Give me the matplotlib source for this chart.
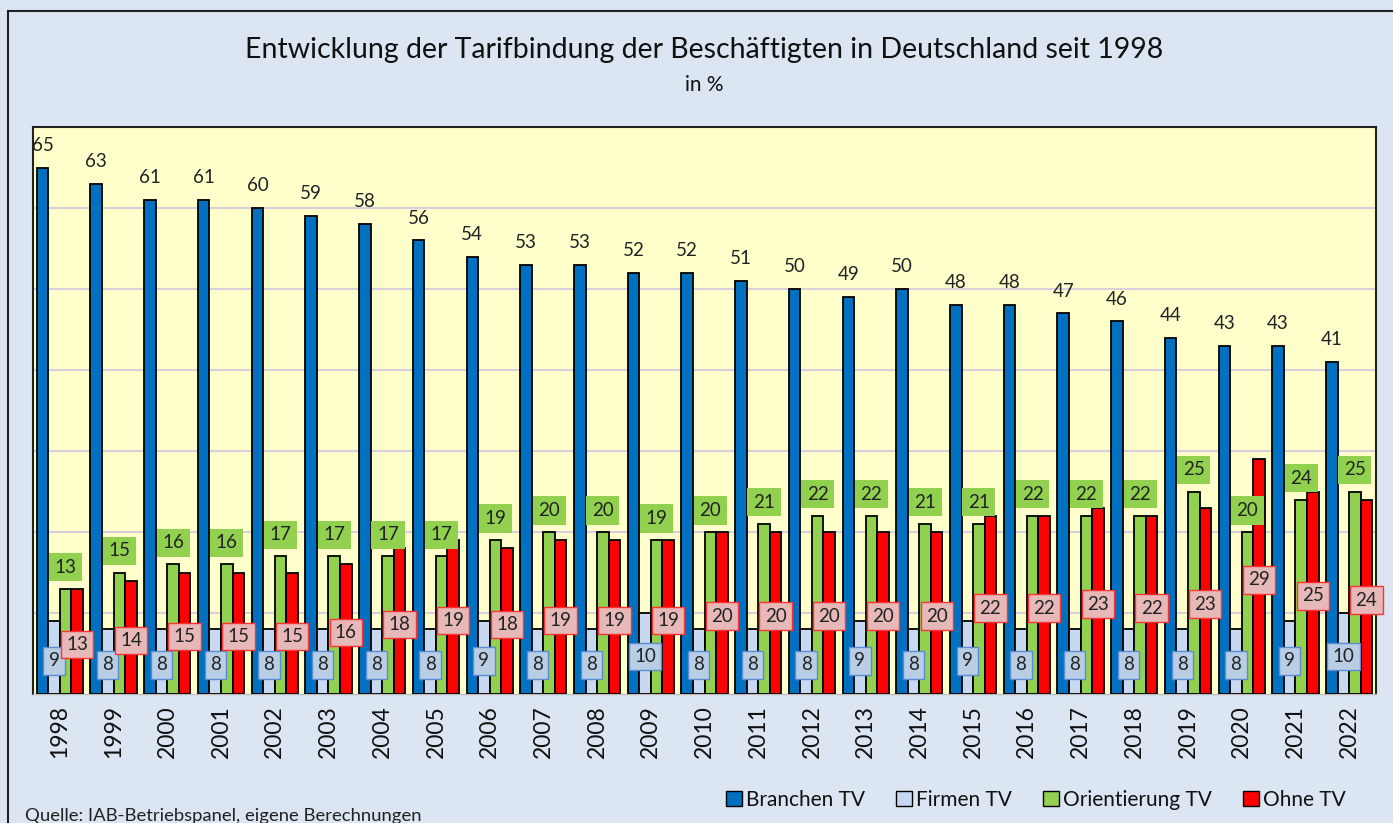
import matplotlib
matplotlib.use('Agg')
import matplotlib.pyplot as plt
from matplotlib.patches import Patch, Rectangle
import numpy as np

years = [str(y) for y in range(1998, 2023)]
branchen = [65, 63, 61, 61, 60, 59, 58, 56, 54, 53, 53, 52, 52, 51, 50, 49, 50, 48, 48, 47, 46, 44, 43, 43, 41]
firmen = [9, 8, 8, 8, 8, 8, 8, 8, 9, 8, 8, 10, 8, 8, 8, 9, 8, 9, 8, 8, 8, 8, 8, 9, 10]
orientierung = [13, 15, 16, 16, 17, 17, 17, 17, 19, 20, 20, 19, 20, 21, 22, 22, 21, 21, 22, 22, 22, 25, 20, 24, 25]
ohne = [13, 14, 15, 15, 15, 16, 18, 19, 18, 19, 19, 19, 20, 20, 20, 20, 20, 22, 22, 23, 22, 23, 29, 25, 24]
series_names = ['Branchen TV', 'Firmen TV', 'Orientierung TV', 'Ohne TV']

title = 'Entwicklung der Tarifbindung der Beschäftigten in Deutschland seit 1998'
subtitle = 'in %'
source = 'Quelle: IAB-Betriebspanel, eigene Berechnungen'

plt.rcParams['font.family'] = ['Lato', 'DejaVu Sans']

C_BLUE = '#0070c0'
C_FIRM = '#c6d9f1'
C_GREEN = '#92d050'
C_RED = '#ff0000'
BG = '#dce6f2'
PLOT_BG = '#ffffcc'

fig = plt.figure(figsize=(13.93, 8.23), dpi=100, facecolor=BG)
ax = fig.add_axes([33/1393, 1-694/823, (1376-33)/1393, (694-127)/823])
ax.set_facecolor(PLOT_BG)

x = np.arange(len(years))
w = 0.215
edge = dict(edgecolor='black', linewidth=1.3)
ax.bar(x - 1.5*w, branchen, w, color=C_BLUE, zorder=3, **edge)
ax.bar(x - 0.5*w, firmen, w, color=C_FIRM, zorder=3, **edge)
ax.bar(x + 0.5*w, orientierung, w, color=C_GREEN, zorder=3, **edge)
ax.bar(x + 1.5*w, ohne, w, color=C_RED, zorder=3, **edge)

fs = 13.5
for i in range(len(years)):
    ax.annotate(str(branchen[i]), (x[i] - 1.5*w, branchen[i]), xytext=(0, 16), textcoords='offset points',
                ha='center', va='center', fontsize=fs, color='#222222', zorder=5, annotation_clip=False)
    ax.annotate(str(orientierung[i]), (x[i] + 0.5*w, orientierung[i]), xytext=(0, 15.5), textcoords='offset points',
                ha='center', va='center', fontsize=fs, color='#222222', zorder=5,
                bbox=dict(boxstyle='square,pad=0.3', facecolor=C_GREEN, edgecolor='none'))
    ax.text(x[i] - 0.5*w, firmen[i]/2 - 0.4, str(firmen[i]), ha='center', va='center', fontsize=fs,
            color='#222222', zorder=5,
            bbox=dict(boxstyle='square,pad=0.28', facecolor='#b9cde5', edgecolor='#5b8bd0', linewidth=1))
    ax.text(x[i] + 1.5*w, ohne[i]/2 - 0.4, str(ohne[i]), ha='center', va='center', fontsize=fs,
            color='#222222', zorder=5,
            bbox=dict(boxstyle='square,pad=0.28', facecolor='#e6b9b8', edgecolor='#ff3333', linewidth=1))

ax.set_xlim(-0.5, len(years) - 0.5)
ax.set_ylim(0, 70)
ax.set_yticks(range(10, 70, 10))
ax.yaxis.grid(True, color='#d8d0dc', linewidth=1.5, zorder=0)
ax.tick_params(axis='y', length=0, labelleft=False)
ax.set_xticks(x)
ax.set_xticklabels(years, rotation=90, fontsize=16.5, color='#111111')
ax.tick_params(axis='x', length=0, pad=8)
for s in ['top', 'left', 'right']:
    ax.spines[s].set_color('#222222')
    ax.spines[s].set_linewidth(1.5)
ax.spines['bottom'].set_color('#bbbbbb')
ax.spines['bottom'].set_linewidth(1)

fig.text(704/1393, 1-50/823, title, ha='center', va='center', fontsize=20.5, color='#111111')
fig.text(704/1393, 1-85/823, subtitle, ha='center', va='center', fontsize=15, color='#111111')
fig.text(25/1393, 1-816/823, source, ha='left', va='center', fontsize=13.3, color='#222222')

handles = [Patch(facecolor=c, edgecolor='black', linewidth=1) for c in [C_BLUE, C_FIRM, C_GREEN, C_RED]]
fig.legend(handles, series_names, loc='center', bbox_to_anchor=(1036/1393, 1-800/823), ncol=4,
           frameon=False, fontsize=15, handlelength=0.75, handleheight=0.75, handletextpad=0.2,
           columnspacing=1.5, labelcolor='#111111')

fig.add_artist(Rectangle((8/1393, -0.05), 1.1, 1-11/823 + 0.05, transform=fig.transFigure,
                         fill=False, edgecolor='#222222', linewidth=1.5))

fig.savefig('out.png', dpi=100, facecolor=BG)
